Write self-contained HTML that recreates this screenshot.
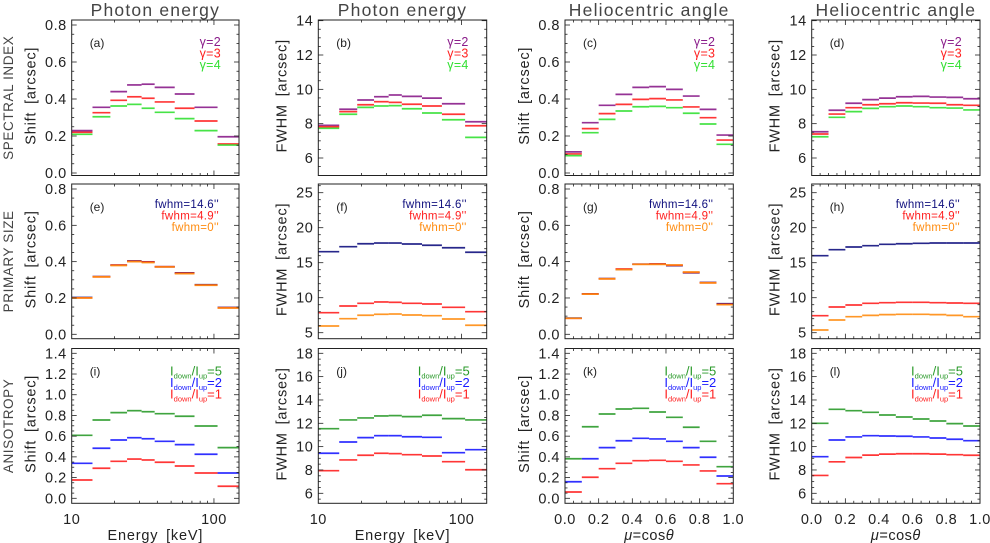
<!DOCTYPE html>
<html><head><meta charset="utf-8">
<style>
html,body{margin:0;padding:0;background:#fff;}
svg{display:block;font-family:"Liberation Sans",sans-serif;}
</style></head>
<body>
<svg id="chart" width="990" height="543" viewBox="0 0 990 543" xmlns="http://www.w3.org/2000/svg"></svg>
<script>
// ---------- data ----------
const energyEdges = [10, 14, 18.7, 24.5, 31, 38.3, 53, 73, 106, 150];
const muEdges = [0, 0.1, 0.2, 0.3, 0.4, 0.5, 0.6, 0.7, 0.8, 0.9, 1.0];

// (a) shift vs energy, spectral index
const aG2 = [0.229, 0.355, 0.44, 0.476, 0.48, 0.463, 0.427, 0.355, 0.196];
const aG3 = [0.22, 0.326, 0.393, 0.412, 0.404, 0.384, 0.35, 0.281, 0.157];
const aG4 = [0.209, 0.304, 0.362, 0.371, 0.35, 0.328, 0.294, 0.229, 0.151];
// (b) fwhm vs energy
const bG2 = [7.90, 8.84, 9.38, 9.57, 9.67, 9.59, 9.49, 9.16, 8.11];
const bG3 = [7.82, 8.70, 9.10, 9.28, 9.24, 9.13, 9.03, 8.55, 7.88];
const bG4 = [7.73, 8.55, 8.95, 9.03, 9.05, 8.87, 8.62, 8.23, 7.2];
// (c) shift vs mu
const cG2 = [0.114, 0.272, 0.366, 0.425, 0.463, 0.467, 0.452, 0.416, 0.344, 0.205];
const cG3 = [0.103, 0.24, 0.321, 0.371, 0.398, 0.402, 0.395, 0.357, 0.299, 0.178];
const cG4 = [0.094, 0.218, 0.29, 0.335, 0.358, 0.36, 0.353, 0.323, 0.265, 0.155];
// (d) fwhm vs mu
const dG2 = [7.53, 8.78, 9.19, 9.40, 9.49, 9.57, 9.59, 9.55, 9.53, 9.45];
const dG3 = [7.40, 8.56, 8.93, 9.10, 9.16, 9.22, 9.20, 9.19, 9.10, 9.07];
const dG4 = [7.24, 8.37, 8.70, 8.89, 8.99, 9.03, 8.99, 8.93, 8.91, 8.80];
// (e) shift vs energy, primary size
const eF146 = [0.203, 0.318, 0.381, 0.404, 0.399, 0.372, 0.338, 0.273, 0.148];
const eF49 = [0.201, 0.317, 0.381, 0.402, 0.398, 0.372, 0.336, 0.271, 0.146];
const eF0 = [0.200, 0.316, 0.379, 0.400, 0.395, 0.371, 0.334, 0.270, 0.145];
// (f) fwhm vs energy
const fF146 = [16.57, 17.29, 17.71, 17.81, 17.81, 17.67, 17.49, 17.14, 16.49];
const fF49 = [7.86, 8.81, 9.2, 9.39, 9.34, 9.2, 9.1, 8.63, 8.0];
const fF0 = [5.96, 7.0, 7.49, 7.63, 7.67, 7.53, 7.43, 6.96, 6.06];
// (g) shift vs mu
const gF146 = [0.089, 0.223, 0.307, 0.357, 0.386, 0.387, 0.378, 0.339, 0.285, 0.168];
const gF49 = [0.088, 0.222, 0.306, 0.360, 0.386, 0.387, 0.380, 0.341, 0.284, 0.165];
const gF0 = [0.088, 0.221, 0.305, 0.356, 0.385, 0.385, 0.382, 0.343, 0.283, 0.163];
// (h) fwhm vs mu
const hF146 = [16.0, 16.86, 17.24, 17.43, 17.63, 17.71, 17.77, 17.81, 17.81, 17.81];
const hF49 = [7.43, 8.67, 8.96, 9.2, 9.29, 9.34, 9.34, 9.29, 9.24, 9.2];
const hF0 = [5.39, 6.81, 7.29, 7.48, 7.58, 7.63, 7.63, 7.58, 7.48, 7.29];
// (i) shift vs energy, anisotropy
const iA5 = [0.608, 0.756, 0.827, 0.846, 0.836, 0.817, 0.792, 0.698, 0.489];
const iA2 = [0.338, 0.483, 0.563, 0.585, 0.575, 0.55, 0.518, 0.425, 0.244];
const iA1 = [0.177, 0.29, 0.357, 0.379, 0.37, 0.348, 0.312, 0.244, 0.116];
// (j) fwhm vs energy
const jA5 = [11.54, 12.29, 12.46, 12.63, 12.66, 12.57, 12.69, 12.4, 12.29];
const jA2 = [9.43, 10.4, 10.77, 10.94, 10.94, 10.85, 10.8, 9.48, 9.74];
const jA1 = [7.94, 8.86, 9.26, 9.43, 9.4, 9.31, 9.2, 8.71, 8.02];
// (k) shift vs mu
const kA5 = [0.382, 0.691, 0.814, 0.862, 0.869, 0.833, 0.782, 0.686, 0.55, 0.305];
const kA2 = [0.16, 0.382, 0.489, 0.556, 0.579, 0.573, 0.55, 0.489, 0.396, 0.215];
const kA1 = [0.061, 0.203, 0.286, 0.338, 0.363, 0.367, 0.357, 0.322, 0.264, 0.141];
// (l) fwhm vs mu
const lA5 = [12.0, 13.2, 13.08, 12.94, 12.71, 12.54, 12.37, 12.2, 11.97, 11.77];
const lA2 = [9.14, 10.57, 10.83, 10.94, 10.91, 10.89, 10.83, 10.74, 10.63, 10.51];
const lA1 = [7.53, 8.7, 9.07, 9.27, 9.36, 9.39, 9.39, 9.36, 9.31, 9.26];

const energyTickLabels = ["10", "100"];
const muTickLabels = ["0.0", "0.2", "0.4", "0.6", "0.8", "1.0"];
const columnTitles = ["Photon energy", "Photon energy", "Heliocentric angle", "Heliocentric angle"];
const rowTitles = ["SPECTRAL INDEX", "PRIMARY SIZE", "ANISOTROPY"];

// ---------- layout ----------
const NS = "http://www.w3.org/2000/svg";
const svg = document.getElementById("chart");
const colX = [[71.7, 239], [318.3, 486.7], [565, 733.3], [811.7, 980]];
const rowY = [[20, 175.5], [184, 338.7], [348.5, 503.3]];

function mk(tag, attrs, parent) {
  const el = document.createElementNS(NS, tag);
  for (const k in attrs) el.setAttribute(k, attrs[k]);
  (parent || svg).appendChild(el);
  return el;
}
function xScaleFactory(kind, x0, x1) {
  if (kind === "log") {
    const l0 = Math.log10(10), l1 = Math.log10(150);
    return v => x0 + (Math.log10(v) - l0) / (l1 - l0) * (x1 - x0);
  }
  return v => x0 + v * (x1 - x0);
}
function yScaleFactory(v1, p1, v2, p2) {
  return v => p1 + (v - v1) * (p2 - p1) / (v2 - v1);
}

const yAxes = {
  shift1: {ref: [0, 173, 0.8, 25], major: 0.2, minor: 0.05, lo: 0, hi: 0.8, fmt: v => v.toFixed(1), title: "Shift [arcsec]"},
  fwhm1: {ref: [6, 158, 12, 55], major: 2, minor: 0.5, lo: 6, hi: 14, fmt: v => String(v), title: "FWHM [arcsec]"},
  shift2: {ref: [0, 334.3, 0.8, 189], major: 0.2, minor: 0.05, lo: 0, hi: 0.8, fmt: v => v.toFixed(1), title: "Shift [arcsec]"},
  fwhm2: {ref: [5, 332.7, 25, 192.7], major: 5, minor: 1, lo: 5, hi: 25, fmt: v => String(v), title: "FWHM [arcsec]"},
  shift3: {ref: [0, 498.3, 1.4, 353.3], major: 0.2, minor: 0.05, lo: 0, hi: 1.4, fmt: v => v.toFixed(1), title: "Shift [arcsec]"},
  fwhm3: {ref: [6, 493.3, 18, 353.3], major: 2, minor: 0.5, lo: 6, hi: 18, fmt: v => String(v), title: "FWHM [arcsec]"}
};

const C = {purple: "#8a1c8a", red: "#ff2020", lgreen: "#33e033", navy: "#10107e", orange: "#ff8c10", green: "#2a9a2a", blue: "#1a1aff"};

const legendsRow = [
  [{t: "γ=2", c: C.purple}, {t: "γ=3", c: C.red}, {t: "γ=4", c: C.lgreen}],
  [{t: "fwhm=14.6''", c: C.navy}, {t: "fwhm=4.9''", c: C.red}, {t: "fwhm=0''", c: C.orange}],
  [{t: "5", c: C.green}, {t: "2", c: C.blue}, {t: "1", c: C.red}]
];

const panels = [
  {id: "a", r: 0, c: 0, x: "log", y: "shift1", s: [[aG2, C.purple], [aG3, C.red], [aG4, C.lgreen]]},
  {id: "b", r: 0, c: 1, x: "log", y: "fwhm1", s: [[bG2, C.purple], [bG3, C.red], [bG4, C.lgreen]]},
  {id: "c", r: 0, c: 2, x: "lin", y: "shift1", s: [[cG2, C.purple], [cG3, C.red], [cG4, C.lgreen]]},
  {id: "d", r: 0, c: 3, x: "lin", y: "fwhm1", s: [[dG2, C.purple], [dG3, C.red], [dG4, C.lgreen]]},
  {id: "e", r: 1, c: 0, x: "log", y: "shift2", s: [[eF146, C.navy], [eF49, C.red], [eF0, C.orange]]},
  {id: "f", r: 1, c: 1, x: "log", y: "fwhm2", s: [[fF146, C.navy], [fF49, C.red], [fF0, C.orange]]},
  {id: "g", r: 1, c: 2, x: "lin", y: "shift2", s: [[gF146, C.navy], [gF49, C.red], [gF0, C.orange]]},
  {id: "h", r: 1, c: 3, x: "lin", y: "fwhm2", s: [[hF146, C.navy], [hF49, C.red], [hF0, C.orange]]},
  {id: "i", r: 2, c: 0, x: "log", y: "shift3", s: [[iA5, C.green], [iA2, C.blue], [iA1, C.red]]},
  {id: "j", r: 2, c: 1, x: "log", y: "fwhm3", s: [[jA5, C.green], [jA2, C.blue], [jA1, C.red]]},
  {id: "k", r: 2, c: 2, x: "lin", y: "shift3", s: [[kA5, C.green], [kA2, C.blue], [kA1, C.red]]},
  {id: "l", r: 2, c: 3, x: "lin", y: "fwhm3", s: [[lA5, C.green], [lA2, C.blue], [lA1, C.red]]}
];

// titles
columnTitles.forEach((t, i) => {
  const el = mk("text", {x: (colX[i][0] + colX[i][1]) / 2, y: 16, "text-anchor": "middle", "font-size": 17.5, "letter-spacing": 1.2, fill: "#444"});
  el.textContent = t;
  
  
});
rowTitles.forEach((t, i) => {
  const cy = (rowY[i][0] + rowY[i][1]) / 2;
  const el = mk("text", {x: 0, y: 0, transform: `translate(13,${cy}) rotate(-90)`, "text-anchor": "middle", "font-size": 13.5, "letter-spacing": 0.6, fill: "#444"});
  el.textContent = t;
  
  
});

panels.forEach(p => {
  const [x0, x1] = colX[p.c];
  const [y0, y1] = rowY[p.r];
  const ax = yAxes[p.y];
  const xs = xScaleFactory(p.x, x0, x1);
  const ys = yScaleFactory(ax.ref[0], ax.ref[1], ax.ref[2], ax.ref[3]);
  const g = mk("g", {});
  
  

  const edges = p.x === "log" ? energyEdges : muEdges;
  p.s.forEach((ser, si) => {
    const sg = mk("g", {stroke: ser[1], "stroke-width": 1.7, "stroke-opacity": 0.9}, g);
    
    
    ser[0].forEach((v, k) => {
      const ln = mk("line", {x1: xs(edges[k]), x2: xs(edges[k + 1]), y1: ys(v), y2: ys(v)}, sg);
      
      
    });
  });

  const fr = mk("rect", {x: x0, y: y0, width: x1 - x0, height: y1 - y0, fill: "none", stroke: "#222", "stroke-width": 1}, g);
  
  

  const tg = mk("g", {stroke: "#222", "stroke-width": 0.8}, g);
  
  
  const nMin = Math.round((ax.hi - ax.lo) / ax.minor);
  for (let k = -4; k <= nMin + 8; k++) {
    const v = ax.lo + k * ax.minor;
    const yy = ys(v);
    if (yy < y0 + 0.5 || yy > y1 - 0.5) continue;
    const isMaj = Math.abs(v / ax.major - Math.round(v / ax.major)) < 1e-6;
    const L = isMaj ? 5 : 2.5;
    mk("line", {x1: x0, x2: x0 + L, y1: yy, y2: yy}, tg);
    mk("line", {x1: x1, x2: x1 - L, y1: yy, y2: yy}, tg);
    if (isMaj) {
      const lab = mk("text", {x: x0 - 5, y: yy + 5, "text-anchor": "end", "font-size": 14.5, "letter-spacing": 0.5, fill: "#222", stroke: "none"}, g);
      lab.textContent = ax.fmt(Math.round(v * 100) / 100);
      
      
    }
  }
  const off = p.y.startsWith("shift") ? 36 : 32;
  const yt = mk("text", {x: 0, y: 0, transform: `translate(${x0 - off},${(y0 + y1) / 2 - 2}) rotate(-90)`, "text-anchor": "middle", "font-size": 14.5, "letter-spacing": 0.8, "word-spacing": 3, fill: "#222"}, g);
  yt.textContent = ax.title;
  
  

  const xg = mk("g", {stroke: "#222", "stroke-width": 0.8}, g);
  
  
  const xt = [];
  if (p.x === "log") {
    for (let v = 10; v <= 150; v += (v < 100 ? 10 : 100)) xt.push([v, v === 10 || v === 100]);
  } else {
    for (let k = 0; k <= 20; k++) xt.push([k * 0.05, k % 4 === 0]);
  }
  xt.forEach(([v, maj]) => {
    const xx = xs(v);
    if (xx < x0 + 0.5 || xx > x1 - 0.5) return;
    const L = maj ? 5 : 2.5;
    mk("line", {x1: xx, x2: xx, y1: y1, y2: y1 - L}, xg);
    mk("line", {x1: xx, x2: xx, y1: y0, y2: y0 + L}, xg);
  });
  if (p.r === 2) {
    if (p.x === "log") {
      [10, 100].forEach((v, k) => {
        const t = mk("text", {x: xs(v), y: 524, "text-anchor": "middle", "font-size": 14.5, "letter-spacing": 0.5, fill: "#222"}, g);
        t.textContent = energyTickLabels[k];
        
        
      });
      const t = mk("text", {x: (x0 + x1) / 2, y: 540, "text-anchor": "middle", "font-size": 14.5, "letter-spacing": 0.8, "word-spacing": 3, fill: "#222"}, g);
      t.textContent = "Energy [keV]";
      
      
    } else {
      muTickLabels.forEach((s, k) => {
        const t = mk("text", {x: xs(k * 0.2), y: 524, "text-anchor": "middle", "font-size": 14.5, "letter-spacing": 0.5, fill: "#222"}, g);
        t.textContent = s;
        
        
      });
      const t = mk("text", {x: (x0 + x1) / 2, y: 540, "text-anchor": "middle", "font-size": 14.5, "letter-spacing": 0.5, fill: "#222"}, g);
      t.innerHTML = '<tspan font-style="italic">μ</tspan>=cos<tspan font-style="italic">θ</tspan>';
      
      
    }
  }

  const lt = mk("text", {x: x0 + 18, y: y0 + 27, "font-size": 12, fill: "#222"}, g);
  lt.textContent = "(" + p.id + ")";
  
  

  const leg = legendsRow[p.r];
  leg.forEach((e, k) => {
    let t;
    if (p.r === 0) {
      t = mk("text", {x: x1 - 18, y: y0 + 26 + k * 11.5, "text-anchor": "end", "font-size": 12.5, "letter-spacing": 0.3, fill: e.c}, g);
      t.textContent = e.t;
    } else if (p.r === 1) {
      t = mk("text", {x: x1 - 20, y: y0 + 24 + k * 11.5, "text-anchor": "end", "font-size": 11.5, "letter-spacing": 0.3, fill: e.c}, g);
      t.textContent = e.t;
    } else {
      t = mk("text", {x: x1 - 17, y: y0 + 27 + k * 11.5, "text-anchor": "end", "font-size": 13, fill: e.c}, g);
      t.innerHTML = 'I<tspan font-size="7.5" dy="3">down</tspan><tspan dy="-3">/I</tspan><tspan font-size="7.5" dy="3">up</tspan><tspan dy="-3">=' + e.t + '</tspan>';
    }
    
    
  });
});
</script>
</body></html>
